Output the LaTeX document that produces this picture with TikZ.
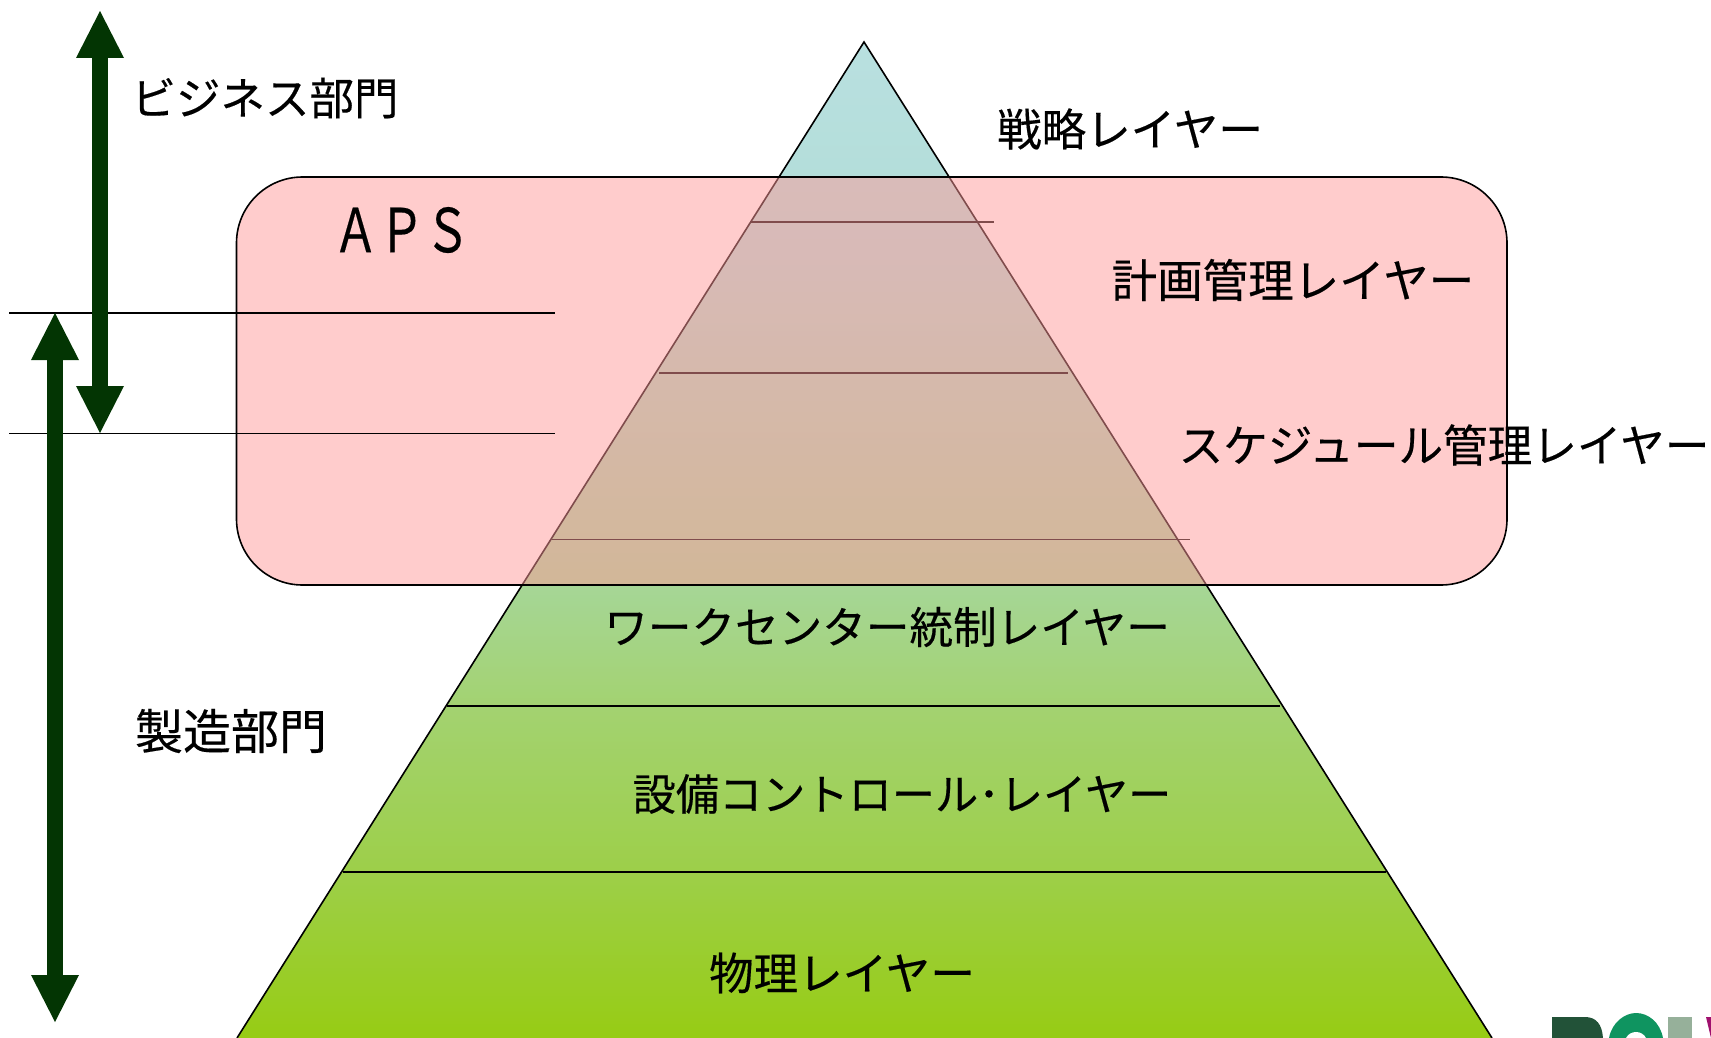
\documentclass[tikz,border=0pt]{standalone}
\usepackage{fontspec}
\setmainfont{Noto Sans CJK JP}[FakeBold=0.35]
\usetikzlibrary{arrows.meta}
\definecolor{arrowgreen}{HTML}{033503}
\definecolor{logoA}{HTML}{225238}
\definecolor{logoB}{HTML}{0F9460}
\definecolor{logoC}{HTML}{96B09A}
\definecolor{logoD}{HTML}{A0106E}
\pgfdeclareverticalshading{pyr}{100bp}{
 rgb(0bp)=(0.592,0.800,0.078);
 rgb(25bp)=(0.592,0.800,0.078);
 rgb(33.5bp)=(0.616,0.812,0.290);
 rgb(41.5bp)=(0.639,0.824,0.439);
 rgb(49bp)=(0.652,0.843,0.620);
 rgb(64.5bp)=(0.694,0.867,0.843);
 rgb(75bp)=(0.725,0.878,0.878);
 rgb(100bp)=(0.725,0.878,0.878)}
\tikzset{
 lbl/.style={font=\fontsize{#1}{50}\selectfont,inner sep=0pt,text=black},
 lbl/.default=44.5,
 rule/.style={line width=1.6pt,draw=black},
 bigarrow/.style={line width=16pt,draw=arrowgreen,{Triangle[width=48pt,length=47pt,line width=0pt]}-{Triangle[width=48pt,length=47pt,line width=0pt]}},
}
\begin{document}
\begin{tikzpicture}[x=1pt,y=-1pt]
\useasboundingbox (0,0) rectangle (1711,1038);
% pyramid
\coordinate (apex) at (864,42);
\coordinate (bl) at (237,1038);
\coordinate (br) at (1492,1038);
\path[shading=pyr] (apex) -- (br) -- (bl) -- cycle;
\draw[rule,line join=miter] (bl) -- (apex) -- (br);
\foreach \n/\y/\a/\b in {p1/222/750.5/993.5,p2/373/659/1068,p3/539.5/552/1190,p4/706/447/1280,p5/872/342.6/1386}{
 \coordinate (\n l) at (\a,\y);
 \coordinate (\n r) at (\b,\y);
 \draw[rule] (\n l) -- (\n r);
}
% APS box
\fill[fill={rgb,255:red,255;green,153;blue,153},fill opacity=0.5,rounded corners=66pt] (236.5,177) rectangle (1507,585);
\draw[line width=1.6pt,black,rounded corners=66pt] (236.5,177) rectangle (1507,585);
% horizontal rules
\coordinate (h1l) at (9,313); \coordinate (h1r) at (555,313);
\coordinate (h2l) at (9,433.5); \coordinate (h2r) at (555,433.5);
\draw[rule] (h1l) -- (h1r);
\draw[rule] (h2l) -- (h2r);
% arrows
\coordinate (a1t) at (100,11); \coordinate (a1b) at (100,433);
\coordinate (a2t) at (55,313); \coordinate (a2b) at (55,1022);
\draw[bigarrow] (a1t) -- (a1b);
\draw[bigarrow] (a2t) -- (a2b);
% logo fragment
\begin{scope}
\clip (1540,1005) rectangle (1711,1038);
\fill[logoA] (1552,1017) -- (1585,1017) .. controls (1596,1017) and (1602,1024) .. (1603,1038) -- (1552,1038) -- cycle;
\fill[logoB] (1609,1038) .. controls (1612,1022) and (1625,1013) .. (1636,1013) .. controls (1648,1013) and (1660,1022) .. (1663,1038) -- cycle;
\fill[white] (1626,1038) .. controls (1628,1034) and (1632,1032) .. (1636,1032) .. controls (1640,1032) and (1644,1034) .. (1646,1038) -- cycle;
\fill[logoC] (1668,1017) rectangle (1692,1038);
\fill[logoD] (1706,1017) -- (1711,1017) -- (1711,1038) -- cycle;
\end{scope}
% labels
\node[lbl] (biz) at (265,98) {ビジネス部門};
\node[lbl] (aps) at (401.6,230) {\scalebox{1.03}[1.36]{ＡＰＳ}};
\node[lbl] (strat) at (1130,129) {戦略レイヤー};
\node[lbl=45.5] (plan) at (1293,280) {計画管理レイヤー};
\node[lbl=44.6] (sched) at (1444,445) {スケジュール管理レイヤー};
\node[lbl=43.6] (wc) at (887,627) {ワークセンター統制レイヤー};
\node[lbl=43.2] (eq) at (902,794) {設備コントロール･レイヤー};
\node[lbl] (phys) at (842,973) {物理レイヤー};
\node[lbl=48] (mfg) at (231,731) {製造部門};
\end{tikzpicture}
\end{document}
